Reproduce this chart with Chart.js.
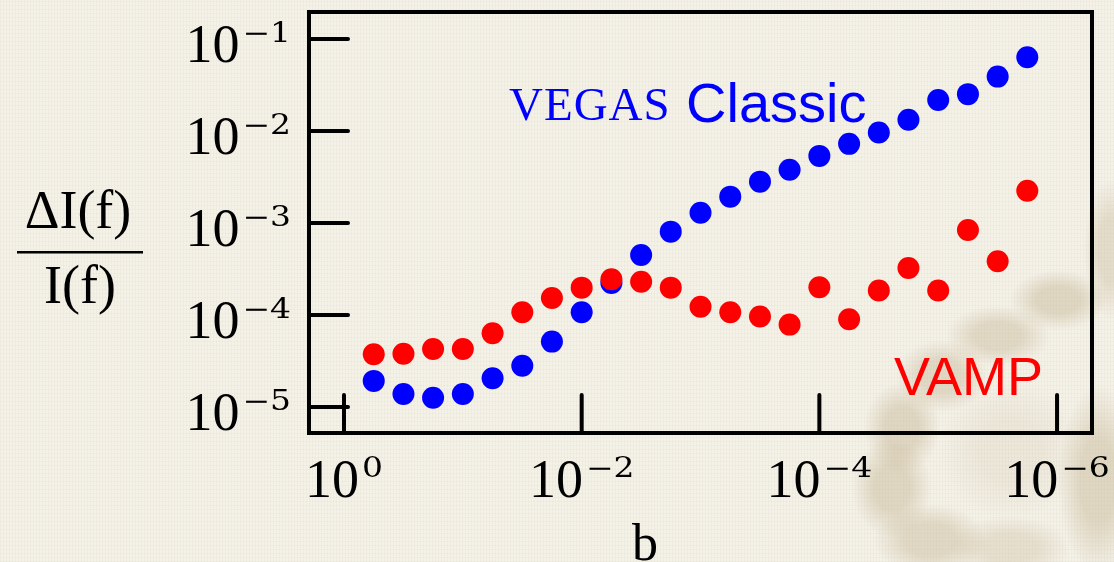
<!DOCTYPE html>
<html>
<head>
<meta charset="utf-8">
<script src="https://cdn.jsdelivr.net/npm/chart.js@4.4.0/dist/chart.umd.min.js"></script>
<style>
    html, body { margin: 0; padding: 0; }
    body {
        width: 1114px;
        height: 562px;
        overflow: hidden;
        background-color: #f4f1e7;
        background-image:
            radial-gradient(ellipse 48px 30px at 1058px 300px, rgba(190, 172, 135, 0.38) 45%, rgba(190, 172, 135, 0) 100%),
            radial-gradient(ellipse 52px 30px at 998px 336px, rgba(190, 172, 135, 0.36) 45%, rgba(190, 172, 135, 0) 100%),
            radial-gradient(ellipse 46px 36px at 942px 376px, rgba(190, 172, 135, 0.36) 45%, rgba(190, 172, 135, 0) 100%),
            radial-gradient(ellipse 38px 46px at 902px 428px, rgba(190, 172, 135, 0.38) 45%, rgba(190, 172, 135, 0) 100%),
            radial-gradient(ellipse 40px 50px at 892px 488px, rgba(190, 172, 135, 0.38) 45%, rgba(190, 172, 135, 0) 100%),
            radial-gradient(ellipse 56px 36px at 930px 540px, rgba(190, 172, 135, 0.36) 45%, rgba(190, 172, 135, 0) 100%),
            radial-gradient(ellipse 60px 32px at 1010px 548px, rgba(190, 172, 135, 0.26) 45%, rgba(190, 172, 135, 0) 100%),
            radial-gradient(ellipse 40px 95px at 1098px 480px, rgba(190, 172, 135, 0.38) 45%, rgba(190, 172, 135, 0) 100%),
            radial-gradient(ellipse 26px 70px at 1110px 250px, rgba(190, 172, 135, 0.30) 45%, rgba(190, 172, 135, 0) 100%),
            radial-gradient(ellipse 70px 70px at 1010px 450px, rgba(190, 172, 135, 0.14) 45%, rgba(190, 172, 135, 0) 100%),
            repeating-linear-gradient(90deg, rgba(130, 120, 100, 0.045) 0 1px, rgba(0, 0, 0, 0) 1px 3px),
            repeating-linear-gradient(0deg, rgba(130, 120, 100, 0.045) 0 1px, rgba(0, 0, 0, 0) 1px 4px);
    }
    canvas { display: block; }
</style>
</head>
<body>
<canvas id="chart" width="1114" height="562"></canvas>
<script>
// b values, quarter decades from 10^-0.25 down to 10^-5.75
const bValues = [0.562, 0.316, 0.178, 0.1, 0.0562, 0.0316, 0.0178, 0.01,
    5.62e-3, 3.16e-3, 1.78e-3, 1e-3, 5.62e-4, 3.16e-4, 1.78e-4, 1e-4,
    5.62e-5, 3.16e-5, 1.78e-5, 1e-5, 5.62e-6, 3.16e-6, 1.78e-6];

// relative error dI/I
const vegasErr = [1.92e-5, 1.38e-5, 1.26e-5, 1.38e-5, 2.05e-5, 2.81e-5, 5.13e-5, 1.07e-4,
    2.23e-4, 4.49e-4, 8.04e-4, 1.29e-3, 1.93e-3, 2.81e-3, 3.79e-3, 5.35e-3,
    7.23e-3, 9.59e-3, 1.32e-2, 2.17e-2, 2.51e-2, 3.89e-2, 6.32e-2];

const vampErr = [3.74e-5, 3.79e-5, 4.27e-5, 4.27e-5, 6.32e-5, 1.07e-4, 1.53e-4, 1.98e-4,
    2.44e-4, 2.29e-4, 1.98e-4, 1.23e-4, 1.07e-4, 9.6e-5, 7.85e-5, 2.0e-4,
    8.97e-5, 1.84e-4, 3.24e-4, 1.84e-4, 8.39e-4, 3.84e-4, 2.24e-3];

const xTicks = [1, 1e-2, 1e-4, 1e-6];
const xTickExp = ['0', '\u22122', '\u22124', '\u22126'];
const yTicks = [1e-1, 1e-2, 1e-3, 1e-4, 1e-5];
const yTickExp = ['\u22121', '\u22122', '\u22123', '\u22124', '\u22125'];

const mainFont = '54px "Liberation Serif"';
const supFont = '27px "DejaVu Serif"';
const supScale = 1.22;

function powerWidth(ctx, exp) {
    ctx.font = mainFont;
    const w10 = ctx.measureText('10').width;
    ctx.font = supFont;
    const ws = ctx.measureText(exp).width * supScale;
    return { w10, ws, total: w10 + 3 + ws };
}

function drawPower(ctx, exp, left, baseline) {
    const m = powerWidth(ctx, exp);
    ctx.textAlign = 'left';
    ctx.textBaseline = 'alphabetic';
    ctx.font = mainFont;
    ctx.fillText('10', left, baseline);
    ctx.save();
    ctx.translate(left + m.w10 + 3, baseline - 20);
    ctx.scale(supScale, 1);
    ctx.font = supFont;
    ctx.fillText(exp, 0, 0);
    ctx.restore();
}

const framePlugin = {
    id: 'frame',
    beforeDatasetsDraw(chart) {
        const { ctx, chartArea: a, scales: { x, y } } = chart;
        ctx.save();
        ctx.strokeStyle = '#000';
        ctx.fillStyle = '#000';
        ctx.lineWidth = 4;
        ctx.strokeRect(a.left, a.top, a.right - a.left, a.bottom - a.top);

        ctx.lineCap = 'round';
        ctx.beginPath();
        yTicks.forEach(v => {
            const py = y.getPixelForValue(v);
            ctx.moveTo(a.left, py);
            ctx.lineTo(a.left + 39, py);
        });
        xTicks.forEach(v => {
            const px = x.getPixelForValue(v);
            ctx.moveTo(px, a.bottom);
            ctx.lineTo(px, a.bottom - 38);
        });
        ctx.stroke();

        yTicks.forEach((v, i) => {
            const py = y.getPixelForValue(v);
            const m = powerWidth(ctx, yTickExp[i]);
            drawPower(ctx, yTickExp[i], a.left - 18 - m.total, py + 23);
        });
        xTicks.forEach((v, i) => {
            const px = x.getPixelForValue(v);
            const m = powerWidth(ctx, xTickExp[i]);
            drawPower(ctx, xTickExp[i], px - m.total / 2, a.bottom + 64);
        });

        // axis titles
        ctx.textAlign = 'center';
        ctx.font = '54px "Liberation Serif"';
        ctx.fillText('\u0394I(f)', 78, 228);
        ctx.fillText('I(f)', 80, 303);
        ctx.fillRect(17, 251, 126, 2.5);
        ctx.font = '52px "Liberation Serif"';
        ctx.fillText('b', 645, 560);
        ctx.restore();
    },
    afterDraw(chart) {
        const { ctx } = chart;
        ctx.save();
        ctx.textAlign = 'left';
        ctx.textBaseline = 'alphabetic';
        ctx.fillStyle = '#0000ff';
        ctx.font = '47px "Liberation Serif"';
        ctx.letterSpacing = '1px';
        ctx.fillText('VEGAS', 509, 120);
        ctx.letterSpacing = '0px';
        ctx.font = '56px "Liberation Sans"';
        ctx.fillText('Classic', 686, 122);
        ctx.fillStyle = '#ff0000';
        ctx.font = '54px "Liberation Sans"';
        ctx.fillText('VAMP', 894, 395);
        ctx.restore();
    }
};

new Chart(document.getElementById('chart').getContext('2d'), {
    type: 'scatter',
    data: {
        datasets: [
            {
                label: 'VAMP',
                data: bValues.map((b, i) => ({ x: b, y: vampErr[i] })),
                backgroundColor: '#ff0000',
                borderWidth: 0,
                pointRadius: 11,
                pointHoverRadius: 11,
            },
            {
                label: 'VEGAS Classic',
                data: bValues.map((b, i) => ({ x: b, y: vegasErr[i] })),
                backgroundColor: '#0000ff',
                borderWidth: 0,
                pointRadius: 11,
                pointHoverRadius: 11,
            }
        ]
    },
    options: {
        responsive: false,
        animation: false,
        events: [],
        layout: {
            padding: { left: 309, top: 12, right: 22, bottom: 129 }
        },
        scales: {
            x: {
                type: 'logarithmic',
                reverse: true,
                min: 5.08e-7,
                max: 1.97,
                display: false
            },
            y: {
                type: 'logarithmic',
                min: 5.21e-6,
                max: 0.196,
                display: false
            }
        },
        plugins: {
            legend: { display: false },
            tooltip: { enabled: false }
        }
    },
    plugins: [framePlugin]
});
</script>
</body>
</html>
